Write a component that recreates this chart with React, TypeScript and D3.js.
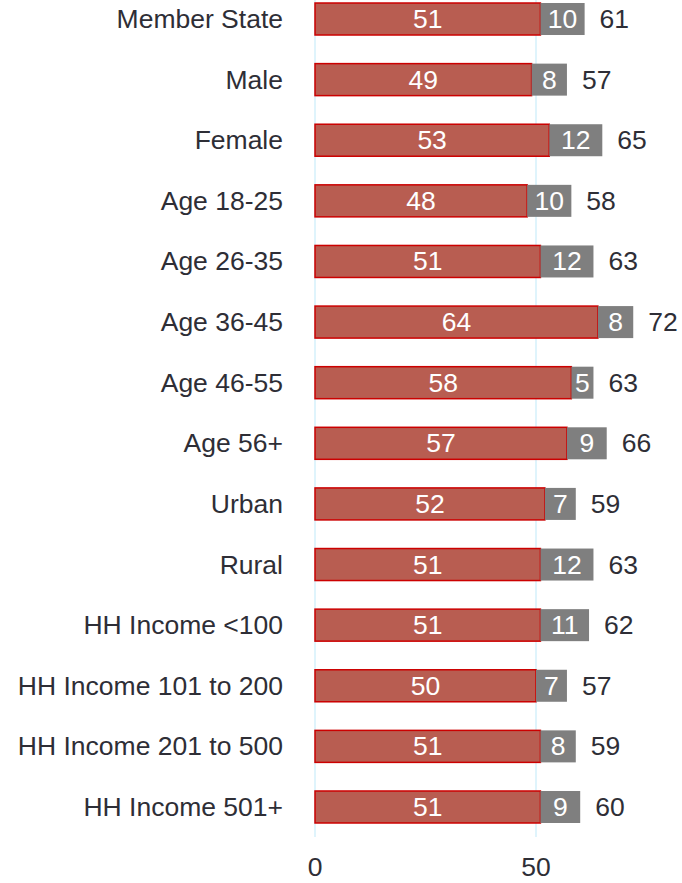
import React from "react";
import * as d3 from "d3";

const categories = [
  "Member State", "Male", "Female", "Age 18-25", "Age 26-35", "Age 36-45",
  "Age 46-55", "Age 56+", "Urban", "Rural", "HH Income <100",
  "HH Income 101 to 200", "HH Income 201 to 500", "HH Income 501+",
];
const redValues = [51, 49, 53, 48, 51, 64, 58, 57, 52, 51, 51, 50, 51, 51];
const grayValues = [10, 8, 12, 10, 12, 8, 5, 9, 7, 12, 11, 7, 8, 9];
const totals = [61, 57, 65, 58, 63, 72, 63, 66, 59, 63, 62, 57, 59, 60];
const ticks = [0, 50];

const W = 682;
const H = 883;
const FONT = "'Liberation Sans', Arial, sans-serif";
const FS = 26.5;

export default function App() {
  const x = d3.scaleLinear().domain([0, 50]).range([315, 536]);
  const y = d3.scaleBand<string>().domain(categories).range([-11.3, 837.3]).paddingInner(0.472).paddingOuter(0.236);
  const bh = y.bandwidth();
  return (
    <svg width={W} height={H} style={{ position: "absolute", left: 0, top: 0, background: "#fff" }}>
      {ticks.map((t) => (
        <line key={t} x1={x(t)} x2={x(t)} y1={0} y2={837} stroke="#d4f1fb" strokeWidth={1.5} />
      ))}
      {categories.map((c, i) => {
        const y0 = y(c)!;
        const cy = y0 + bh / 2;
        const r = redValues[i];
        const g = grayValues[i];
        return (
          <g key={c}>
            <text x={283} y={cy} textAnchor="end" dominantBaseline="central" fontFamily={FONT} fontSize={FS} fill="#2e2e36">{c}</text>
            <rect x={x(0)} y={y0} width={x(r) - x(0)} height={bh} fill="#b85d51" stroke="#cc0000" strokeWidth={1.5} />
            <rect x={x(r)} y={y0} width={x(r + g) - x(r)} height={bh} fill="#7f7f7f" />
            <text x={(x(0) + x(r)) / 2} y={cy} textAnchor="middle" dominantBaseline="central" fontFamily={FONT} fontSize={FS} fill="#fff">{r}</text>
            <text x={(x(r) + x(r + g)) / 2} y={cy} textAnchor="middle" dominantBaseline="central" fontFamily={FONT} fontSize={FS} fill="#fff">{g}</text>
            <text x={x(r + g) + 15} y={cy} textAnchor="start" dominantBaseline="central" fontFamily={FONT} fontSize={FS} fill="#2e2e36">{totals[i]}</text>
          </g>
        );
      })}
      {ticks.map((t) => (
        <text key={"l" + t} x={x(t)} y={867} textAnchor="middle" dominantBaseline="central" fontFamily={FONT} fontSize={FS} fill="#2e2e36">{t}</text>
      ))}
    </svg>
  );
}
